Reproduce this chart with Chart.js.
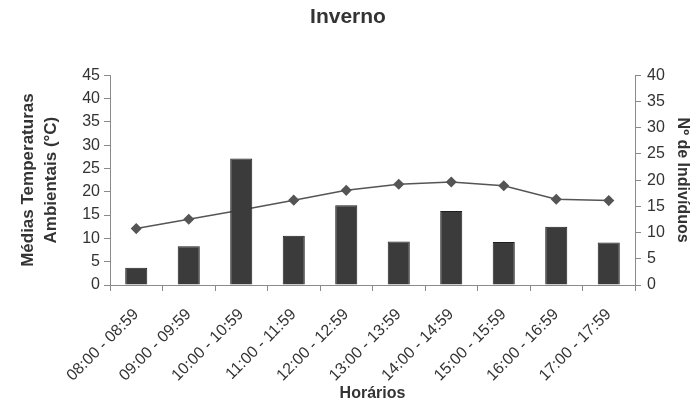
<!DOCTYPE html>
<html>
<head>
<meta charset="utf-8">
<style>
	html, body { margin: 0; padding: 0; background: #fff; }
</style>
</head>
<body>
<canvas id="graf" width="696" height="405"></canvas>
<script src="https://cdn.jsdelivr.net/npm/chart.js"></script>
<script>
	const horarios = [
		"08:00 - 08:59",
		"09:00 - 09:59",
		"10:00 - 10:59",
		"11:00 - 11:59",
		"12:00 - 12:59",
		"13:00 - 13:59",
		"14:00 - 14:59",
		"15:00 - 15:59",
		"16:00 - 16:59",
		"17:00 - 17:59",
	];
	// nº de indivíduos (barras, eixo direito)
	let individuos = [3.3, 7.4, 24.1, 9.4, 15.2, 8.3, 14.1, 8.2, 11.1, 8.1];
	// médias de temperatura (linha, eixo esquerdo)
	let temperaturas = [12.1, 14.1, 16.1, 18.2, 20.3, 21.6, 22.1, 21.3, 18.4, 18.1];

	const txt = "#333";
	const eixo = "#8a8a8a";
	const fonte = "'Liberation Sans', Arial, sans-serif";

	var graf = new Chart(document.getElementById("graf"), {
		type: "bar",
		data: {
			labels: horarios,
			datasets: [
				{
					type: "bar",
					data: individuos,
					yAxisID: "y2",
					backgroundColor: "#3b3b3b",
					borderColor: "#1e1e1e",
					borderWidth: 1,
					barPercentage: 0.42,
					categoryPercentage: 1,
				},
				{
					type: "line",
					data: temperaturas,
					yAxisID: "y",
					borderColor: "#555",
					backgroundColor: "#555",
					borderWidth: 1.5,
					pointStyle: "rectRot",
					pointRadius: 4.5,
					tension: 0,
				},
			],
		},
		options: {
			responsive: false,
			animation: false,
			layout: { padding: 0 },
			plugins: {
				legend: { display: false },
				tooltip: { enabled: false },
				title: {
					display: true,
					text: "Inverno",
					color: txt,
					font: { family: fonte, size: 21, weight: "bold" },
					padding: { top: 5, bottom: 45 },
				},
			},
			scales: {
				x: {
					grid: { drawOnChartArea: false, color: eixo, tickLength: 6, offset: true },
					border: { color: eixo },
					ticks: {
						color: txt,
						font: { family: fonte, size: 16 },
						autoSkip: false,
						minRotation: 45,
						maxRotation: 45,
						padding: 14,
					},
					title: {
						display: true,
						text: "Horários",
						color: txt,
						font: { family: fonte, size: 16, weight: "bold" },
						padding: { top: 0, bottom: 2 },
					},
					afterFit: (s) => { s.height = 120; },
				},
				y: {
					position: "left",
					min: 0,
					max: 45,
					grid: { drawOnChartArea: false, color: eixo, tickLength: 6 },
					border: { color: eixo },
					ticks: { stepSize: 5, color: txt, font: { family: fonte, size: 16 }, padding: 4 },
					title: {
						display: true,
						text: ["Médias Temperaturas", "Ambientais (°C)"],
						color: txt,
						font: { family: fonte, size: 17, weight: "bold", lineHeight: 1.4 },
						padding: { top: 16, bottom: 0 },
					},
					afterFit: (s) => { s.width = 110; },
				},
				y2: {
					position: "right",
					min: 0,
					max: 40,
					grid: { drawOnChartArea: false, color: eixo, tickLength: 6 },
					border: { color: eixo },
					ticks: { stepSize: 5, color: txt, font: { family: fonte, size: 16 }, padding: 6 },
					title: {
						display: true,
						text: "Nº de Indivíduos",
						color: txt,
						font: { family: fonte, size: 16, weight: "bold" },
						padding: { top: 4, bottom: 0 },
					},
					afterFit: (s) => { s.width = 61; },
				},
			},
		},
	});
</script>
</body>
</html>
